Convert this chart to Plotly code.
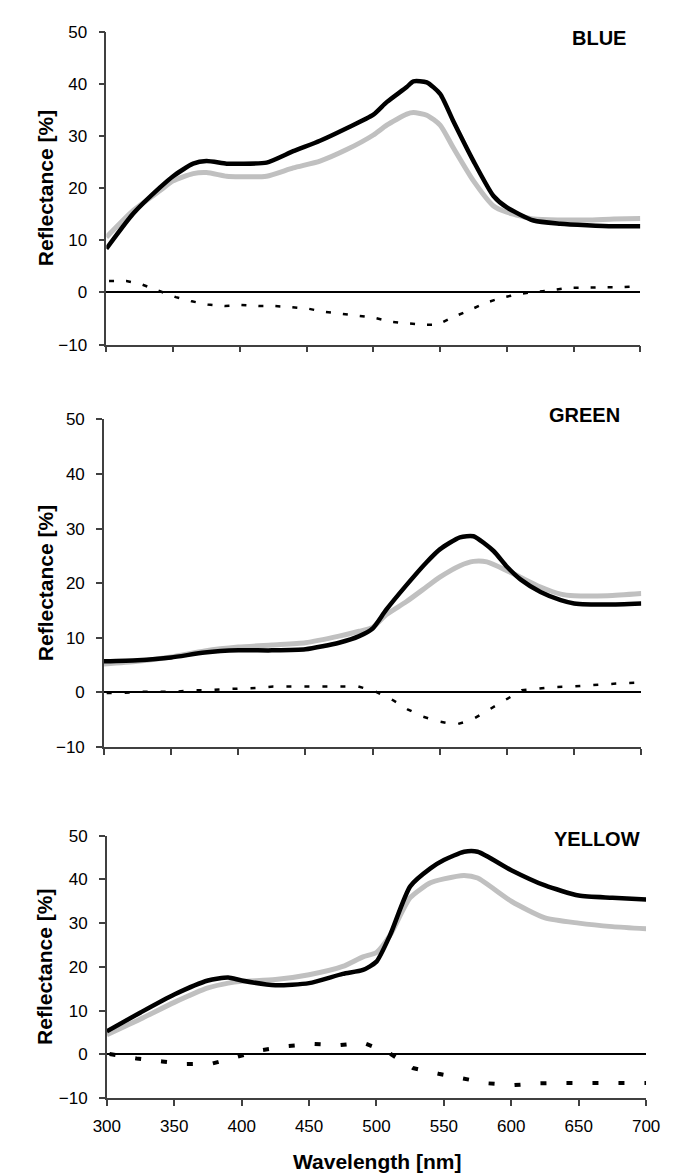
import plotly.graph_objects as go

W, H = 678, 1176

# ---------------- data ----------------
wl_ticks = [300, 350, 400, 450, 500, 550, 600, 650, 700]
y_ticks = [-10, 0, 10, 20, 30, 40, 50]

blue_wl = [300, 320, 340, 350, 365, 375, 390, 400, 420, 440, 460, 480, 500, 510,
           525, 530, 540, 550, 560, 575, 590, 600, 620, 640, 660, 680, 700]
blue_black = [8.4, 15.1, 20.1, 22.3, 24.7, 25.2, 24.7, 24.7, 24.9, 27.1, 29.1, 31.5, 34.1, 36.5,
              39.4, 40.5, 40.3, 38.1, 32.8, 25.2, 18.5, 16.3, 13.8, 13.2, 12.9, 12.7, 12.7]
blue_gray = [10.6, 15.7, 19.5, 21.4, 22.8, 23.0, 22.3, 22.2, 22.3, 23.9, 25.2, 27.4, 30.2, 32.1,
             34.2, 34.5, 34.0, 32.1, 27.7, 21.4, 16.6, 15.4, 14.1, 13.9, 13.9, 14.1, 14.2]
blue_diff_wl = [302, 315, 327, 339, 352, 364, 376, 389, 401, 414, 426, 438, 451, 463, 476, 488, 500,
                513, 525, 537, 548, 559, 572, 584, 596, 609, 621, 633, 646, 658, 671, 683, 698]
blue_diff = [2.2, 2.2, 1.5, 0.4, -0.9, -1.7, -2.3, -2.6, -2.4, -2.6, -2.6, -2.8, -3.1, -3.7, -4.1, -4.5, -4.8,
             -5.6, -5.9, -6.2, -6.2, -4.8, -3.4, -2.0, -1.0, -0.3, 0.1, 0.4, 0.9, 0.9, 1.0, 1.0, 1.2]

green_wl_black = [300, 325, 350, 375, 400, 425, 450, 475, 490, 500, 510, 525, 540, 550,
                  565, 575, 590, 600, 610, 625, 640, 650, 675, 700]
green_black = [5.7, 5.9, 6.4, 7.3, 7.7, 7.7, 7.9, 9.1, 10.3, 11.7, 15.1, 19.6, 23.8, 26.2,
               28.4, 28.6, 25.9, 23.0, 20.7, 18.4, 16.9, 16.3, 16.1, 16.3]
green_wl_gray = [300, 325, 350, 375, 400, 425, 450, 475, 490, 500, 510, 525, 540, 550,
                 565, 575, 585, 600, 610, 625, 640, 650, 675, 700]
green_gray = [5.2, 5.7, 6.5, 7.6, 8.3, 8.7, 9.1, 10.3, 11.2, 11.9, 14.2, 16.6, 19.3, 21.1,
              23.2, 24.0, 23.9, 22.3, 21.1, 19.3, 18.0, 17.7, 17.7, 18.1]
green_diff_wl = [302, 314, 327, 339, 352, 365, 377, 390, 401, 414, 426, 439, 452, 464, 477, 489, 501,
                 515, 526, 537, 549, 562, 574, 586, 598, 611, 624, 636, 649, 661, 674, 687, 699]
green_diff = [-0.1, -0.1, 0.1, 0.1, 0.1, 0.4, 0.4, 0.6, 0.7, 0.8, 1.1, 1.1, 1.1, 1.1, 1.1, 1.1, 0.3,
              -1.4, -3.1, -4.4, -5.3, -5.9, -5.0, -3.2, -1.4, 0.4, 0.7, 1.0, 1.1, 1.3, 1.6, 1.7, 1.8]

yellow_wl = [300, 325, 350, 375, 390, 400, 425, 450, 475, 490, 500, 510, 525, 540,
             550, 565, 575, 600, 625, 650, 675, 700]
yellow_black = [5.3, 9.6, 13.7, 16.9, 17.6, 16.9, 15.8, 16.3, 18.4, 19.3, 21.2, 27.2, 38.4, 42.5,
                44.4, 46.3, 46.3, 42.1, 38.6, 36.3, 35.8, 35.4]
yellow_gray = [4.5, 8.1, 11.9, 15.2, 16.3, 16.7, 17.1, 18.2, 20.1, 22.3, 23.3, 27.2, 35.8, 39.2,
               40.1, 40.9, 40.3, 35.0, 31.2, 30.0, 29.2, 28.7]
yellow_diff_wl = [302, 322, 341, 359, 378, 396, 415, 434, 453, 472, 490, 509, 527, 546, 564,
                  583, 602, 620, 638, 658, 676, 695, 700]
yellow_diff = [0.1, -0.9, -1.6, -2.2, -2.1, -0.6, 1.0, 1.9, 2.4, 2.1, 2.7, 0.4, -3.1, -4.4, -5.5,
               -6.6, -7.0, -6.6, -6.5, -6.5, -6.5, -6.5, -6.5]

panel_names = ["BLUE", "GREEN", "YELLOW"]

# ---------------- layout geometry (pixels) ----------------
panels = [
    dict(name="BLUE", x0=88.0, x1=645.0, ytop=15.0, ybot=333.0, lab_x=632, lab_y=21,
         bw=blue_wl, b=blue_black, gw=blue_wl, g=blue_gray, dw=blue_diff_wl, d=blue_diff,
         dash="5px,12px", dwidth=2.5),
    dict(name="GREEN", x0=85.5, x1=646.0, ytop=409.0, ybot=742.0, lab_x=626, lab_y=405,
         bw=green_wl_black, b=green_black, gw=green_wl_gray, g=green_gray, dw=green_diff_wl,
         d=green_diff, dash="5px,13px", dwidth=2.5),
    dict(name="YELLOW", x0=88.5, x1=651.0, ytop=832.0, ybot=1099.0, lab_x=647, lab_y=835,
         bw=yellow_wl, b=yellow_black, gw=yellow_wl, g=yellow_gray, dw=yellow_diff_wl,
         d=yellow_diff, dash="6px,20px", dwidth=4),
]

FONT = "Arial, 'Liberation Sans', sans-serif"
fig = go.Figure()
annotations = []

for i, p in enumerate(panels):
    k = "" if i == 0 else str(i + 1)
    xa, ya = "x" + k, "y" + k
    fig.add_trace(go.Scatter(x=p["gw"], y=p["g"], mode="lines", xaxis=xa, yaxis=ya,
                             line=dict(color="#c0c0c0", width=5, shape="spline", smoothing=0.6),
                             showlegend=False, hoverinfo="skip"))
    fig.add_trace(go.Scatter(x=p["bw"], y=p["b"], mode="lines", xaxis=xa, yaxis=ya,
                             line=dict(color="#000000", width=4.5, shape="spline", smoothing=0.6),
                             showlegend=False, hoverinfo="skip"))
    fig.add_trace(go.Scatter(x=p["dw"], y=p["d"], mode="lines", xaxis=xa, yaxis=ya,
                             line=dict(color="#000000", width=p["dwidth"], dash=p["dash"]),
                             showlegend=False, hoverinfo="skip"))

    last = (i == 2)
    fig.update_layout(**{
        "xaxis" + k: dict(
            domain=[p["x0"] / W, p["x1"] / W], range=[300, 700], anchor=ya,
            tickvals=wl_ticks, showticklabels=last, ticks="outside", ticklen=6,
            tickwidth=1.5, tickcolor="#404040", showline=True, linecolor="#404040",
            linewidth=1.5, showgrid=False, zeroline=False, fixedrange=True,
            tickfont=dict(family=FONT, size=17, color="#000"), ticklabelstandoff=6,
        ),
        "yaxis" + k: dict(
            domain=[1 - p["ybot"] / H, 1 - p["ytop"] / H], range=[-10, 50], anchor=xa,
            tickvals=y_ticks, ticks="outside", ticklen=6, tickwidth=1.5,
            tickcolor="#404040", showline=True, linecolor="#404040", linewidth=1.5,
            showgrid=False, zeroline=True, zerolinecolor="#000000", zerolinewidth=1.5,
            fixedrange=True, tickfont=dict(family=FONT, size=17, color="#000"),
            ticklabelstandoff=8,
        ),
    })
    annotations.append(dict(text="<b>Reflectance [%]</b>", xref="paper", yref="paper",
                            x=24 / W, y=1 - (p["ytop"] + p["ybot"]) / 2 / H, textangle=-90,
                            showarrow=False, xanchor="center", yanchor="middle",
                            font=dict(family=FONT, size=21, color="#000")))
    annotations.append(dict(text="<b>%s</b>" % p["name"], xref="paper", yref="paper",
                            x=p["lab_x"] / W, y=1 - p["lab_y"] / H, showarrow=False,
                            xanchor="right", yanchor="middle",
                            font=dict(family=FONT, size=20, color="#000")))

annotations.append(dict(text="<b>Wavelength [nm]</b>", xref="paper", yref="paper",
                        x=370 / W, y=1 - 1163 / H, showarrow=False, xanchor="center",
                        yanchor="middle", font=dict(family=FONT, size=21, color="#000")))

fig.update_layout(width=W, height=H, margin=dict(l=0, r=0, t=0, b=0, pad=0),
                  plot_bgcolor="white", paper_bgcolor="white", annotations=annotations,
                  showlegend=False)

fig.write_html("out.html")
